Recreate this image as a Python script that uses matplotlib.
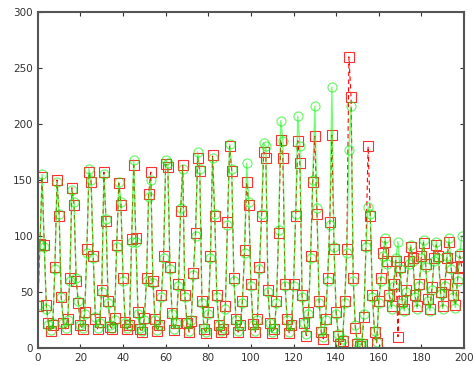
import numpy as np
import matplotlib
matplotlib.use('Agg')
import matplotlib.pyplot as plt

# green series (solid line, circles)
green = [38, 92, 155, 90, 35, 20, 16, 22, 70, 148,
         120, 45, 22, 18, 25, 60, 141, 130, 62, 42,
         20, 18, 30, 85, 160, 150, 80, 28, 18, 22,
         50, 155, 115, 40, 20, 18, 25, 90, 148, 130,
         60, 22, 18, 20, 95, 168, 95, 30, 18, 15,
         25, 60, 135, 150, 58, 25, 16, 20, 45, 80,
         168, 165, 70, 30, 17, 22, 55, 125, 160, 45,
         22, 15, 25, 65, 100, 175, 160, 40, 18, 14,
         30, 80, 170, 120, 45, 20, 15, 18, 35, 110,
         182, 160, 60, 25, 15, 20, 40, 85, 165, 130,
         55, 20, 15, 25, 70, 120, 183, 180, 50, 22,
         14, 18, 40, 105, 203, 185, 55, 25, 14, 20,
         55, 120, 207, 180, 45, 22, 12, 30, 80, 150,
         216, 125, 40, 15, 10, 25, 60, 110, 233, 90,
         30, 12, 5, 8, 40, 85, 177, 216, 60, 20,
         5, 3, 4, 30, 90, 126, 120, 45, 15, 5,
         40, 60, 82, 98, 75, 45, 35, 55, 80, 95,
         70, 40, 33, 50, 75, 92, 78, 45, 35, 55,
         80, 96, 72, 42, 33, 52, 78, 95, 80, 48,
         35, 55, 82, 98, 70, 45, 36, 60, 85, 100]

# red series (dashed line, squares)
red = [37, 93, 153, 92, 38, 22, 15, 20, 72, 150,
       118, 45, 22, 17, 26, 62, 143, 128, 60, 40,
       20, 17, 32, 88, 157, 148, 82, 26, 17, 23,
       52, 157, 113, 42, 19, 17, 27, 92, 147, 128,
       62, 23, 17, 20, 97, 163, 98, 32, 17, 14,
       27, 62, 137, 157, 60, 26, 15, 20, 47, 82,
       164, 162, 72, 31, 16, 22, 57, 122, 163, 47,
       22, 14, 24, 67, 103, 170, 158, 42, 17, 13,
       32, 82, 172, 118, 47, 20, 14, 17, 37, 112,
       180, 158, 62, 26, 14, 20, 42, 87, 148, 128,
       57, 21, 14, 26, 72, 118, 175, 170, 52, 22,
       13, 17, 42, 103, 186, 170, 57, 26, 13, 20,
       57, 118, 185, 165, 47, 22, 11, 32, 82, 148,
       189, 120, 42, 14, 8, 26, 62, 112, 190, 88,
       32, 11, 3, 6, 42, 88, 260, 224, 62, 18,
       3, 2, 3, 28, 92, 180, 118, 47, 14, 4,
       42, 62, 85, 95, 78, 47, 37, 57, 78, 10,
       72, 42, 35, 52, 78, 90, 80, 47, 37, 57,
       82, 94, 75, 44, 35, 54, 80, 92, 82, 50,
       37, 57, 80, 95, 72, 47, 38, 62, 82, 72]

x = np.arange(len(green))

fig = plt.figure(figsize=(4.73, 3.65), dpi=100)
ax = fig.add_axes([0.080, 0.047, 0.901, 0.920])

ax.plot(x, red, '--', color='#ff0000', linewidth=0.8, marker='s',
        markersize=6.5, markerfacecolor='none', markeredgecolor='#ff3030',
        markeredgewidth=0.8, dashes=(4, 3))
ax.plot(x, green, '-', color='#00ff00', linewidth=1.0, alpha=0.55,
        marker='o', markersize=6.5, markerfacecolor='none',
        markeredgecolor='#00ee00', markeredgewidth=0.9)

ax.set_xlim(0, 200)
ax.set_ylim(0, 300)
ax.set_xticks(np.arange(0, 201, 20))
ax.set_yticks(np.arange(0, 301, 50))
ax.tick_params(direction='in', length=3, labelsize=7.5, colors='#333333',
               top=True, right=True)
for s in ax.spines.values():
    s.set_linewidth(1.5)
    s.set_color('#555555')

fig.savefig('out.png', dpi=100)
